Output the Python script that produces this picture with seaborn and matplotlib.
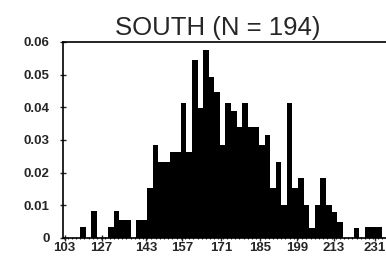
import numpy as np
import pandas as pd
import matplotlib
matplotlib.use("Agg")
import matplotlib.pyplot as plt
import seaborn as sns

# relative frequency per bin (left to right)
freq = [0, 0, 0, 0.0034, 0, 0.0083, 0, 0, 0.0034, 0.0083,
        0.0055, 0.0055, 0, 0.0055, 0.0055, 0.0153, 0.0285, 0.0233, 0.0233, 0.0263,
        0.0263, 0.0413, 0.0263, 0.0544, 0.0398, 0.0575, 0.0492, 0.0446, 0.0284, 0.0413,
        0.0390, 0.0340, 0.0413, 0.0340, 0.0340, 0.0284, 0.0315, 0.0153, 0.0233, 0.0101,
        0.0413, 0.0153, 0.0183, 0.0101, 0.0031, 0.0101, 0.0183, 0.0101, 0.0080, 0.0049,
        0, 0, 0.0030, 0, 0.0034, 0.0034, 0.0034, 0]
bins = list(range(len(freq)))

# x labels as printed on the original axis (placed by bin position)
xtick_pos = [-0.3, 6.3, 14.3, 20.8, 27.7, 34.7, 41.3, 47.9, 55.3]
xtick_labels = ['103', '127', '143', '157', '171', '185', '199', '213', '231']
yticks = [0, 0.01, 0.02, 0.03, 0.04, 0.05, 0.06]
ytick_labels = ['0', '0.01', '0.02', '0.03', '0.04', '0.05', '0.06']

df = pd.DataFrame({'bin': bins, 'freq': freq})

sns.set_style("ticks")
plt.rcParams['font.family'] = ['Liberation Sans', 'DejaVu Sans']

fig = plt.figure(figsize=(3.86, 2.6), dpi=100)
ax = fig.add_axes([63 / 386, 22 / 260, 323 / 386, 196 / 260])

sns.barplot(data=df, x='bin', y='freq', color='black', width=1.0,
            saturation=1, linewidth=0, ax=ax)

ax.set_xlim(-0.6, 57.0)
ax.set_ylim(0, 0.06)
ax.set_xticks(xtick_pos, xtick_labels)
ax.set_xticks(np.arange(-0.5, 57.5, 0.75), minor=True)
ax.set_yticks(yticks, ytick_labels)
ax.set_xlabel('')
ax.set_ylabel('')

ax.tick_params(axis='x', which='major', direction='inout', length=4, width=1,
               labelsize=9.5, pad=1)
ax.tick_params(axis='x', which='minor', direction='inout', length=2, width=0.8)
ax.tick_params(axis='y', direction='inout', length=5, width=1, labelsize=9.5, pad=7)
for lab in ax.get_xticklabels() + ax.get_yticklabels():
    lab.set_fontweight('bold')

for s in ['left', 'bottom', 'top']:
    ax.spines[s].set_visible(True)
    ax.spines[s].set_color('black')
    ax.spines[s].set_linewidth(1.2)
ax.spines['right'].set_visible(False)

ax.set_title('SOUTH (N = 194)', fontsize=18.5, x=0.48, pad=5)

plt.savefig('out.png', dpi=100)
